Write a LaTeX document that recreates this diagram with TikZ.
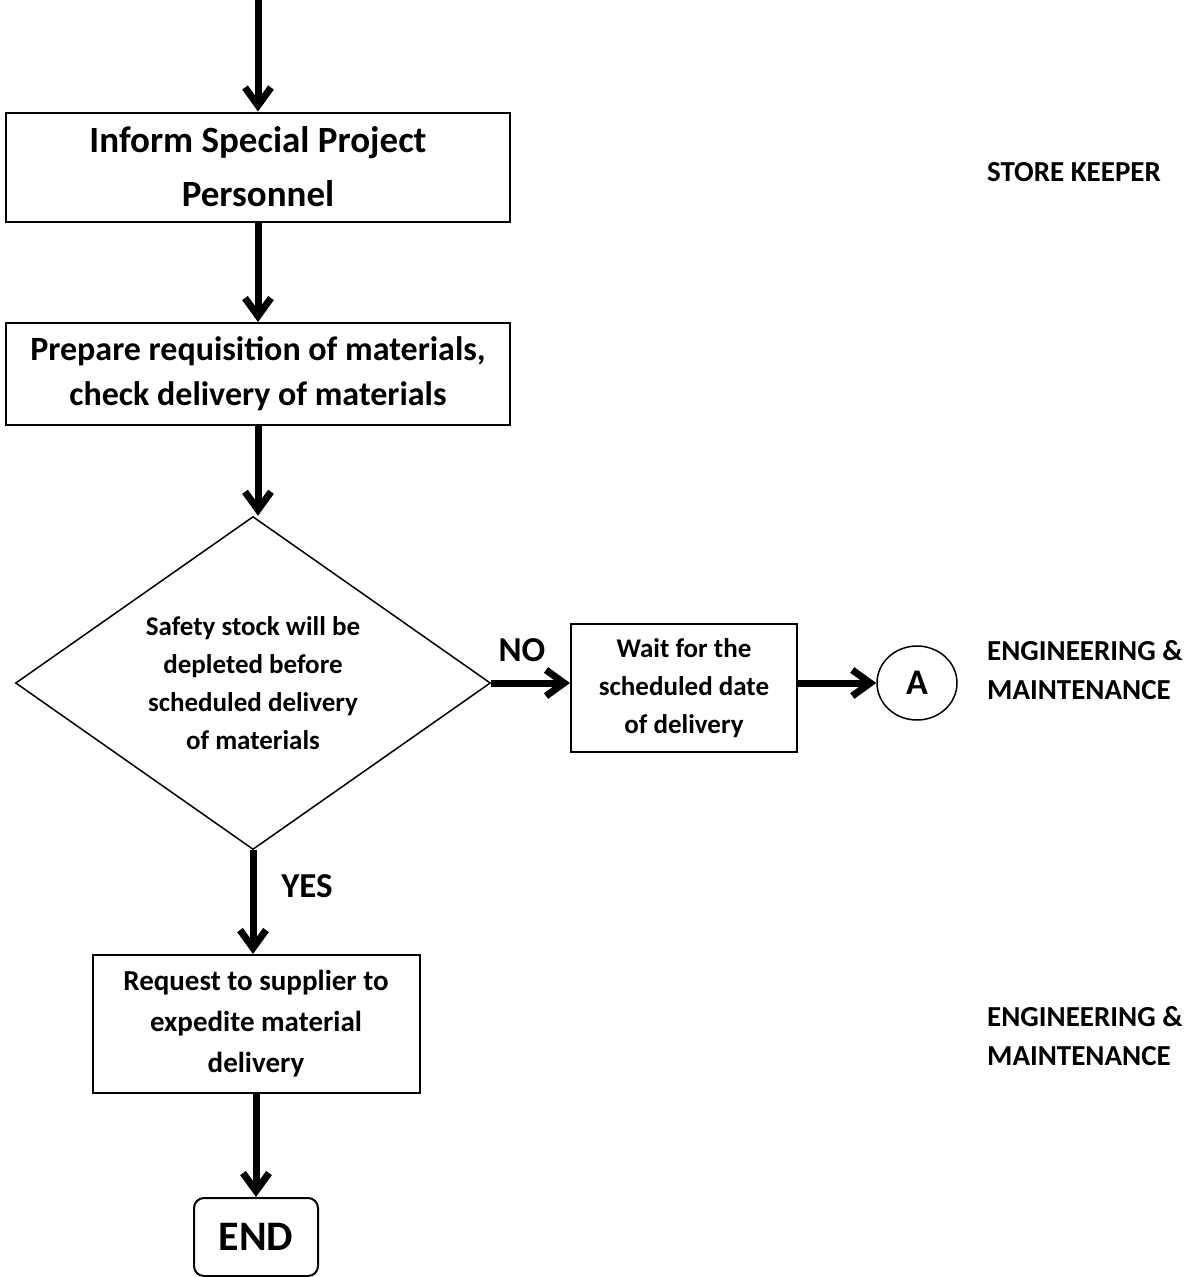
\documentclass[tikz,border=0pt]{standalone}
\usepackage{fontspec}
\setmainfont{Carlito}
\usetikzlibrary{arrows.meta,shapes.geometric}
\begin{document}
\begin{tikzpicture}[x=1pt,y=-1pt,
  every node/.style={font=\bfseries, inner sep=0pt, align=center},
  box/.style={draw, line width=2pt},
  flow/.style={line width=7pt, -{Straight Barb[length=18pt,width=26pt,line width=7pt]}},
  side/.style={anchor=west, align=left, font=\bfseries\fontsize{29}{39}\selectfont},
  ans/.style={font=\bfseries\fontsize{35}{40}\selectfont}
]
\useasboundingbox (0,0) rectangle (1191,1277);
\fill[white] (0,0) rectangle (1191,1277);

% process boxes
\node[box, minimum width=504pt, minimum height=109pt, font=\bfseries\fontsize{37}{54}\selectfont]
  (inform) at (258,167) {Inform Special Project\\Personnel};
\node[box, minimum width=504pt, minimum height=102pt, font=\bfseries\fontsize{34}{45}\selectfont]
  (prep) at (258,374) {Prepare requisition of materials,\\check delivery of materials};
\node[draw, line width=1.5pt, shape=diamond, shape aspect=1.43, minimum width=475pt, minimum height=333pt,
  font=\bfseries\fontsize{27}{38}\selectfont]
  (dec) at (253,683) {Safety stock will be\\depleted before\\scheduled delivery\\of materials};
\node[box, minimum width=226pt, minimum height=128pt, font=\bfseries\fontsize{27}{38}\selectfont]
  (wait) at (684,688) {Wait for the\\scheduled date\\of delivery};
\node[draw, line width=1.5pt, ellipse, minimum width=80pt, minimum height=74pt, font=\bfseries\fontsize{36}{40}\selectfont]
  (A) at (917,683) {A};
\node[box, minimum width=327pt, minimum height=138pt, font=\bfseries\fontsize{29}{41}\selectfont]
  (req) at (256,1024) {Request to supplier to\\expedite material\\delivery};
\node[box, rounded corners=10pt, minimum width=124pt, minimum height=78pt, font=\bfseries\fontsize{42}{48}\selectfont]
  (end) at (256,1237) {END};

% entry point
\coordinate (start) at (258,0);

% connectors
\draw[flow] (start) -- (start |- inform.north);
\draw[flow] (inform.south) -- (inform.south |- prep.north);
\draw[flow] (prep.south) -- (prep.south |- dec.north);
\draw[flow] (dec.east) -- (dec.east -| wait.west);
\draw[flow] (wait.east |- A.west) -- (A.west);
\draw[flow] (dec.south) -- (dec.south |- req.north);
\draw[flow] (req.south) -- (req.south |- end.north);

% branch labels
\node[ans] (no) at (522,650) {NO};
\node[ans] (yes) at (307,886) {YES};

% responsibility labels
\node[side] (who1) at (987,172) {STORE KEEPER};
\node[side] (who2) at (987,670) {ENGINEERING \&\\MAINTENANCE};
\node[side] (who3) at (987,1036) {ENGINEERING \&\\MAINTENANCE};
\end{tikzpicture}
\end{document}
